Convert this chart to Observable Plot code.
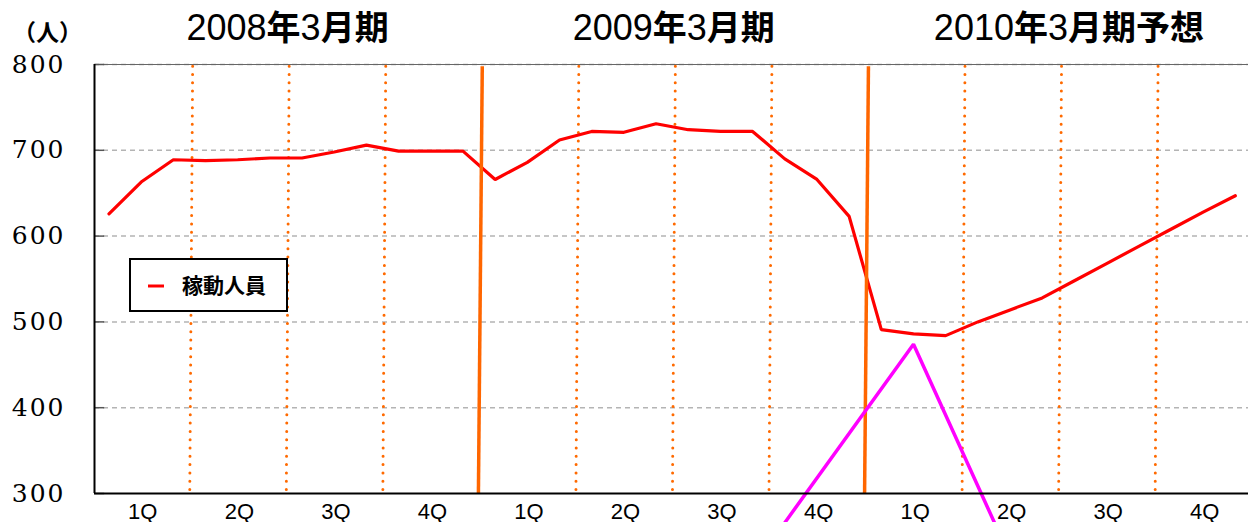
<!DOCTYPE html>
<html>
<head>
<meta charset="utf-8">
<script src="https://cdn.jsdelivr.net/npm/d3@7"></script>
<script src="https://cdn.jsdelivr.net/npm/@observablehq/plot@0.6"></script>
<style>
  html, body { margin: 0; padding: 0; background: #fff; overflow: hidden; }
  g[font-family^="DejaVu Serif"] text { letter-spacing: 2px; }
</style>
</head>
<body>
<div id="chart"></div>
<script>
// ---- data ----
const monthIndex = d3.range(36); // Apr 2007 .. Mar 2010
const staff = [
  626, 663, 689, 688, 689, 691, 691, 698, 706, 699, 699, 699,   // FY to 2008/3
  666, 686, 712, 722, 721, 731, 724, 722, 722, 690, 666, 623,   // FY to 2009/3
  491, 486, 484, 500, 514, 528, 548, 568, 588, 608, 628, 647    // FY to 2010/3 (forecast)
];
const markerMonths = [21, 25, 28];
const markerValues = [266, 474, 226];
const yTicks = [300, 400, 500, 600, 700, 800];
const gridValues = [400, 500, 600, 700, 800];
const quarterLabels = ["1Q","2Q","3Q","4Q","1Q","2Q","3Q","4Q","1Q","2Q","3Q","4Q"];
const quarterBoundaries = [3, 6, 9, 15, 18, 21, 27, 30, 33];
const yearBoundaries = [12, 24];
const yearTitles = ["2008年3月期", "2009年3月期", "2010年3月期予想"];
const unitLabel = "（人）";
const legendLabel = "稼動人員";

const staffRows = monthIndex.map(i => ({m: i, v: staff[i]}));
const markerRows = markerMonths.map((m, i) => ({m, v: markerValues[i]}));

const ORANGE = "#ff6a00";
const CENTER = 0.45;

const chart = Plot.plot({
  width: 1248,
  height: 522,
  marginLeft: 94,
  marginRight: 0,
  marginTop: 64,
  marginBottom: 29,
  x: {domain: [0, 35.86], axis: null},
  y: {domain: [300, 800], axis: null},
  marks: [
    Plot.ruleY(gridValues, {stroke: "#b4b4b4", strokeWidth: 1.5, strokeDasharray: "5,4"}),
    Plot.ruleY([800], {stroke: "#666", strokeWidth: 1.2}),
    Plot.link(yTicks, {x1: 0, x2: 0.3, y1: d => d, y2: d => d, stroke: "#555", strokeWidth: 1.5}),
    Plot.link(quarterBoundaries, {
      x1: d => d + 0.05, x2: d => d - 0.04, y1: 798, y2: 302,
      stroke: ORANGE, strokeWidth: 3, strokeDasharray: "0,8.3", strokeLinecap: "round"
    }),
    Plot.line(staffRows, {x: d => d.m + CENTER, y: "v", stroke: "#ff0000", strokeWidth: 3.2, strokeLinejoin: "miter"}),
    Plot.link(yearBoundaries, {
      x1: d => d + 0.05, x2: d => d - 0.07, y1: 798, y2: 300,
      stroke: "#ff6600", strokeWidth: 3.5
    }),
    Plot.line(markerRows, {x: d => d.m + CENTER, y: "v", stroke: "#ff00ff", strokeWidth: 3.5, strokeLinejoin: "miter"}),
    Plot.ruleX([0], {stroke: "#000", strokeWidth: 2}),
    Plot.ruleY([300], {stroke: "#000", strokeWidth: 2}),
    Plot.text(yTicks, {
      y: d => d, frameAnchor: "left", dx: -29, textAnchor: "end", lineAnchor: "middle",
      fontSize: 25, fontFamily: "DejaVu Serif", fill: "#000"
    }),
    Plot.text(quarterLabels, {
      x: (d, i) => i * 3 + 1.5, y: 300, dy: 18, lineAnchor: "middle", textAnchor: "middle",
      fontSize: 22, fontFamily: "Liberation Sans", fill: "#000"
    }),
    Plot.text(yearTitles, {
      filter: (d, i) => i < 2,
      x: (d, i) => i * 12 + 6, frameAnchor: "top", dy: -36, lineAnchor: "middle", textAnchor: "middle",
      fontSize: 36, fontFamily: "Liberation Sans", fill: "#000"
    }),
    Plot.text(yearTitles, {
      filter: (d, i) => i === 2,
      x: (d, i) => 2 * 12 + 6, frameAnchor: "top", dx: 9, dy: -36, lineAnchor: "middle", textAnchor: "middle",
      fontSize: 36, fontFamily: "Liberation Sans", fill: "#000"
    }),
    Plot.text([unitLabel], {
      frameAnchor: "top-left", dx: 47 - 94, dy: 33 - 64, textAnchor: "middle", lineAnchor: "middle",
      fontSize: 23, fontWeight: "bold", fontFamily: "Noto Sans CJK JP", fill: "#000"
    })
  ]
});

document.getElementById("chart").appendChild(chart);

// mixed-weight titles: digits regular, kanji bold
d3.select(chart).selectAll("text").each(function () {
  const t = this.textContent;
  if (!/年/.test(t)) return;
  const parts = t.split(/(\d+)/).filter(s => s.length);
  const sel = d3.select(this);
  sel.text(null);
  parts.forEach(p => {
    const isNum = /^\d+$/.test(p);
    sel.append("tspan")
      .attr("font-family", isNum ? "Liberation Sans" : "Noto Sans CJK JP")
      .attr("font-weight", isNum ? "normal" : "bold")
      .attr("font-size", isNum ? 36 : 34)
      .text(p);
  });
});

// legend box
const svg = d3.select(chart);
const lg = svg.append("g").attr("text-anchor", "start");
lg.append("rect").attr("x", 130).attr("y", 259).attr("width", 157).attr("height", 52)
  .attr("fill", "#fff").attr("stroke", "#000").attr("stroke-width", 2);
lg.append("line").attr("x1", 148).attr("x2", 164).attr("y1", 286).attr("y2", 286)
  .attr("stroke", "#ff0000").attr("stroke-width", 3);
lg.append("text").attr("x", 182).attr("y", 286).attr("dy", "0.35em")
  .attr("text-anchor", "start")
  .attr("font-family", "Noto Sans CJK JP").attr("font-weight", "bold").attr("font-size", 21)
  .attr("fill", "#000").text(legendLabel);
</script>
</body>
</html>
